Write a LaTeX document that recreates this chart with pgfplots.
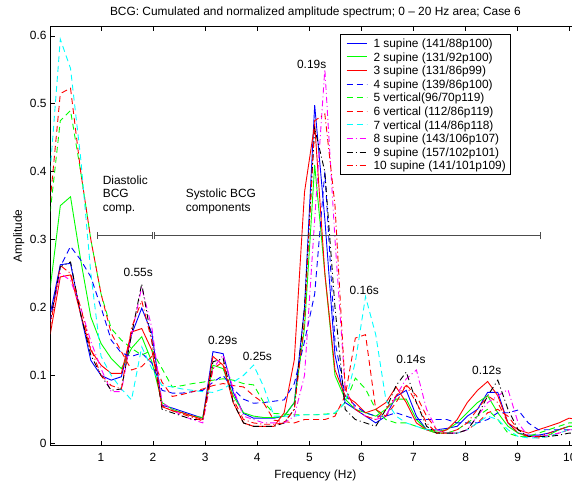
\documentclass[border=0pt]{standalone}
\usepackage{pgfplots}
\pgfplotsset{compat=1.18}
\usepackage{pgfplotstable}
\usepackage{fontspec}
\setmainfont{Liberation Sans}
\newcommand\f{\fontsize{11.9pt}{14.1pt}\selectfont}
\definecolor{mgreen}{RGB}{0,255,0}
\definecolor{mblue}{RGB}{0,0,255}
\definecolor{mred}{RGB}{255,0,0}
\definecolor{mcyan}{RGB}{0,255,255}
\definecolor{mmag}{RGB}{255,0,255}
\tikzset{
  sA/.style={draw=mblue, line width=0.9pt},
  sB/.style={draw=mgreen, line width=0.9pt},
  sC/.style={draw=mred, line width=0.9pt},
  sD/.style={draw=mblue, line width=0.9pt, dash pattern=on 6pt off 4pt},
  sE/.style={draw=mgreen, line width=0.9pt, dash pattern=on 6pt off 4pt},
  sF/.style={draw=mred, line width=0.9pt, dash pattern=on 6pt off 4pt},
  sG/.style={draw=mcyan, line width=0.9pt, dash pattern=on 6pt off 4pt},
  sH/.style={draw=mmag, line width=0.9pt, dash pattern=on 6pt off 3pt on 1pt off 3pt},
  sI/.style={draw=black, line width=0.9pt, dash pattern=on 6pt off 3pt on 1pt off 3pt},
  sJ/.style={draw=mred, line width=0.9pt, dash pattern=on 6pt off 3pt on 1pt off 3pt},
}

\pgfplotstableread{
f s1 s2 s3 s4 s5 s6 s7 s8 s9 s10
0.025 0.19 0.228 0.16 0.18 0.34 0.356 0.40 0.18 0.18 0.17
0.220 0.263 0.35 0.245 0.26 0.475 0.515 0.595 0.25 0.26 0.262
0.416 0.265 0.363 0.248 0.29 0.49 0.523 0.552 0.24 0.267 0.25
0.611 0.19 0.27 0.19 0.27 0.40 0.40 0.42 0.20 0.19 0.20
0.806 0.122 0.186 0.137 0.245 0.30 0.30 0.25 0.15 0.13 0.14
1.002 0.10 0.147 0.115 0.20 0.22 0.22 0.128 0.11 0.10 0.10
1.197 0.093 0.125 0.103 0.152 0.169 0.162 0.10 0.076 0.078 0.085
1.392 0.098 0.11 0.103 0.133 0.152 0.135 0.08 0.076 0.08 0.08
1.587 0.16 0.14 0.164 0.128 0.14 0.108 0.064 0.16 0.16 0.17
1.783 0.199 0.157 0.169 0.133 0.13 0.113 0.142 0.23 0.235 0.21
1.978 0.162 0.12 0.137 0.118 0.137 0.128 0.11 0.17 0.15 0.15
2.173 0.056 0.06 0.054 0.078 0.11 0.09 0.085 0.06 0.05 0.055
2.369 0.052 0.05 0.048 0.074 0.083 0.069 0.083 0.05 0.045 0.048
2.564 0.047 0.045 0.045 0.074 0.085 0.072 0.08 0.04 0.04 0.043
2.759 0.042 0.04 0.04 0.076 0.088 0.076 0.078 0.035 0.035 0.038
2.955 0.037 0.038 0.035 0.078 0.09 0.08 0.076 0.03 0.035 0.033
3.150 0.135 0.115 0.128 0.09 0.093 0.085 0.075 0.11 0.12 0.11
3.345 0.132 0.11 0.115 0.10 0.095 0.088 0.08 0.13 0.125 0.12
3.540 0.075 0.07 0.06 0.08 0.093 0.085 0.09 0.08 0.06 0.065
3.736 0.044 0.045 0.03 0.065 0.088 0.083 0.10 0.04 0.03 0.035
3.931 0.037 0.04 0.025 0.059 0.086 0.07 0.115 0.035 0.025 0.03
4.126 0.037 0.038 0.025 0.06 0.06 0.059 0.083 0.03 0.025 0.028
4.322 0.037 0.038 0.025 0.062 0.044 0.034 0.04 0.03 0.025 0.028
4.517 0.04 0.04 0.045 0.064 0.043 0.032 0.04 0.03 0.03 0.03
4.712 0.06 0.06 0.123 0.088 0.042 0.03 0.04 0.04 0.05 0.05
4.908 0.20 0.17 0.37 0.15 0.042 0.035 0.042 0.10 0.20 0.18
5.103 0.498 0.41 0.47 0.22 0.042 0.035 0.042 0.33 0.464 0.475
5.298 0.33 0.25 0.25 0.40 0.043 0.035 0.042 0.551 0.40 0.485
5.493 0.13 0.10 0.108 0.15 0.044 0.04 0.045 0.30 0.2 0.35
5.689 0.06 0.065 0.07 0.07 0.06 0.07 0.06 0.08 0.05 0.08
5.884 0.05 0.05 0.06 0.055 0.096 0.155 0.12 0.05 0.035 0.05
6.079 0.04 0.045 0.045 0.045 0.08 0.16 0.216 0.04 0.03 0.04
6.275 0.03 0.04 0.05 0.04 0.05 0.05 0.16 0.035 0.025 0.035
6.470 0.04 0.05 0.06 0.04 0.035 0.04 0.064 0.04 0.05 0.05
6.665 0.069 0.065 0.083 0.045 0.03 0.06 0.04 0.07 0.085 0.07
6.861 0.078 0.065 0.06 0.04 0.03 0.086 0.03 0.095 0.105 0.085
7.056 0.04 0.035 0.03 0.035 0.025 0.07 0.025 0.108 0.06 0.06
7.251 0.02 0.02 0.02 0.035 0.02 0.04 0.02 0.05 0.025 0.03
7.446 0.02 0.018 0.015 0.035 0.015 0.02 0.02 0.02 0.015 0.015
7.642 0.022 0.02 0.02 0.035 0.015 0.015 0.015 0.015 0.015 0.015
7.837 0.025 0.03 0.035 0.03 0.02 0.015 0.015 0.015 0.015 0.02
8.032 0.04 0.045 0.06 0.03 0.03 0.02 0.02 0.02 0.02 0.03
8.228 0.05 0.06 0.078 0.03 0.04 0.03 0.03 0.04 0.04 0.05
8.423 0.075 0.07 0.091 0.035 0.05 0.045 0.04 0.06 0.07 0.07
8.618 0.075 0.045 0.07 0.045 0.035 0.05 0.035 0.07 0.093 0.06
8.814 0.03 0.025 0.03 0.045 0.015 0.04 0.02 0.079 0.05 0.03
9.009 0.015 0.015 0.02 0.049 0.01 0.02 0.01 0.03 0.02 0.015
9.204 0.012 0.01 0.015 0.03 0.01 0.01 0.008 0.01 0.01 0.01
9.399 0.012 0.01 0.02 0.02 0.015 0.008 0.008 0.01 0.01 0.01
9.595 0.015 0.012 0.025 0.02 0.02 0.01 0.01 0.012 0.01 0.015
9.790 0.02 0.02 0.03 0.02 0.025 0.015 0.015 0.015 0.012 0.02
9.985 0.025 0.025 0.037 0.02 0.03 0.02 0.02 0.02 0.015 0.025
10.181 0.025 0.025 0.035 0.02 0.03 0.02 0.02 0.02 0.015 0.025
}\data

\begin{document}
\f
\begin{tikzpicture}
\begin{axis}[
  scale only axis,
  width=529.5pt, height=418.3pt,
  xmin=0.035, xmax=10.2,
  ymin=-0.0025, ymax=0.6135,
  xtick={1,2,3,4,5,6,7,8,9,10},
  ytick={0,0.1,0.2,0.3,0.4,0.5,0.6},
  /pgf/number format/assume math mode=true,
  tick label style={font=\f},
  tick align=inside,
  major tick length=4.5pt,
  every tick/.style={black, line width=0.6pt},
  axis line style={line width=0.8pt},
  xticklabel style={anchor=base, yshift=-16.1pt},
  title={BCG: Cumulated and normalized amplitude spectrum; 0 -- 20 Hz area; Case 6},
  title style={font=\f, at={(axis description cs:0.5,1.0135)}, anchor=base},
  xlabel={Frequency (Hz)},
  xlabel style={font=\f, at={(axis description cs:0.5,-0.0806)}, anchor=base},
  ylabel={Amplitude},
  ylabel style={font=\f, at={(axis description cs:-0.0604,0.5)}, anchor=center},
]
\addplot[sA] table[x=f,y=s1]{\data};
\addplot[sB] table[x=f,y=s2]{\data};
\addplot[sC] table[x=f,y=s3]{\data};
\addplot[sD] table[x=f,y=s4]{\data};
\addplot[sE] table[x=f,y=s5]{\data};
\addplot[sF] table[x=f,y=s6]{\data};
\addplot[sG] table[x=f,y=s7]{\data};
\addplot[sH] table[x=f,y=s8]{\data};
\addplot[sI] table[x=f,y=s9]{\data};
\addplot[sJ] table[x=f,y=s10]{\data};

% bracket
\draw[black!70, line width=0.8pt] (axis cs:0.93,0.3057) -- (axis cs:1.993,0.3057);
\draw[black!70, line width=0.8pt] (axis cs:2.031,0.3057) -- (axis cs:9.441,0.3057);
\draw[black!70, line width=0.8pt] (axis cs:0.93,0.3008) -- (axis cs:0.93,0.3106);
\draw[black!70, line width=0.8pt] (axis cs:1.993,0.3008) -- (axis cs:1.993,0.3106);
\draw[black!70, line width=0.8pt] (axis cs:2.031,0.3008) -- (axis cs:2.031,0.3106);
\draw[black!70, line width=0.8pt] (axis cs:9.441,0.3008) -- (axis cs:9.441,0.3106);

\node[font=\f, anchor=base west, inner sep=0pt] at (axis cs:1.033,0.3816) {Diastolic};
\node[font=\f, anchor=base west, inner sep=0pt] at (axis cs:1.033,0.3613) {BCG};
\node[font=\f, anchor=base west, inner sep=0pt] at (axis cs:1.033,0.341) {comp.};
\node[font=\f, anchor=base west, inner sep=0pt] at (axis cs:2.626,0.3613) {Systolic BCG};
\node[font=\f, anchor=base west, inner sep=0pt] at (axis cs:2.626,0.341) {components};

\node[font=\f] at (axis cs:1.716,0.2518) {0.55s};
\node[font=\f] at (axis cs:3.337,0.1511) {0.29s};
\node[font=\f] at (axis cs:4.003,0.1286) {0.25s};
\node[font=\f] at (axis cs:5.045,0.5582) {0.19s};
\node[font=\f] at (axis cs:6.055,0.2258) {0.16s};
\node[font=\f] at (axis cs:6.951,0.1242) {0.14s};
\node[font=\f] at (axis cs:8.405,0.1069) {0.12s};

% legend box
\filldraw[fill=white, draw=black, line width=0.8pt]
  (axis description cs:0.5477,0.6479) rectangle (axis description cs:0.8680,0.9809);
\draw[sA] (axis description cs:0.5590,0.9603) -- (axis description cs:0.5968,0.9603);
\draw[sB] (axis description cs:0.5590,0.9278) -- (axis description cs:0.5968,0.9278);
\draw[sC] (axis description cs:0.5590,0.8953) -- (axis description cs:0.5968,0.8953);
\draw[sD] (axis description cs:0.5590,0.8628) -- (axis description cs:0.5968,0.8628);
\draw[sE] (axis description cs:0.5590,0.8303) -- (axis description cs:0.5968,0.8303);
\draw[sF] (axis description cs:0.5590,0.7978) -- (axis description cs:0.5968,0.7978);
\draw[sG] (axis description cs:0.5590,0.7653) -- (axis description cs:0.5968,0.7653);
\draw[sH] (axis description cs:0.5590,0.7328) -- (axis description cs:0.5968,0.7328);
\draw[sI] (axis description cs:0.5590,0.7003) -- (axis description cs:0.5968,0.7003);
\draw[sJ] (axis description cs:0.5590,0.6677) -- (axis description cs:0.5968,0.6677);
\node[font=\f, anchor=base west, inner sep=0pt] at (axis description cs:0.6093,0.9501) {1 supine (141/88p100)};
\node[font=\f, anchor=base west, inner sep=0pt] at (axis description cs:0.6093,0.9176) {2 supine (131/92p100)};
\node[font=\f, anchor=base west, inner sep=0pt] at (axis description cs:0.6093,0.8851) {3 supine (131/86p99)};
\node[font=\f, anchor=base west, inner sep=0pt] at (axis description cs:0.6093,0.8526) {4 supine (139/86p100)};
\node[font=\f, anchor=base west, inner sep=0pt] at (axis description cs:0.6093,0.8201) {5 vertical(96/70p119)};
\node[font=\f, anchor=base west, inner sep=0pt] at (axis description cs:0.6093,0.7876) {6 vertical (112/86p119)};
\node[font=\f, anchor=base west, inner sep=0pt] at (axis description cs:0.6093,0.7551) {7 vertical (114/86p118)};
\node[font=\f, anchor=base west, inner sep=0pt] at (axis description cs:0.6093,0.7226) {8 supine (143/106p107)};
\node[font=\f, anchor=base west, inner sep=0pt] at (axis description cs:0.6093,0.6901) {9 supine (157/102p101)};
\node[font=\f, anchor=base west, inner sep=0pt] at (axis description cs:0.6093,0.6575) {10 supine (141/101p109)};

\coordinate (bbSW) at (rel axis cs:-0.0957,-0.0861);
\coordinate (bbNE) at (rel axis cs:0.98451,1.0638);
\end{axis}
\pgfresetboundingbox
\useasboundingbox (bbSW) rectangle (bbNE);
\end{tikzpicture}
\end{document}
